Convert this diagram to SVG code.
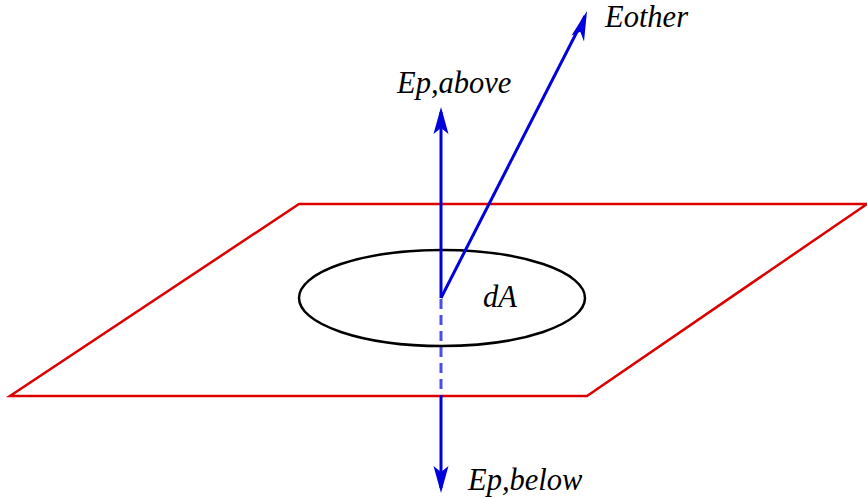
<svg xmlns="http://www.w3.org/2000/svg" width="867" height="498" viewBox="0 0 867 498">
<style>
.lbl{font-family:"Liberation Serif","Times New Roman",serif;font-style:italic;font-size:30.5px;fill:#000}
.vec{stroke:#0000dd;stroke-width:3;fill:none}
.dash{stroke:#0000dd;stroke-width:3;fill:none;stroke-dasharray:10 6;opacity:0.7}
.head{fill:#0000dd}
</style>
<rect width="867" height="498" fill="#fff"/>
<g id="plane">
<polygon points="299,204 867,204 587,396 10,396" fill="none" stroke="#dd0000" stroke-width="2.5"/>
</g>
<g id="dA">
<ellipse cx="442" cy="298" rx="143" ry="48" fill="none" stroke="#000" stroke-width="2.5"/>
<text class="lbl" x="483" y="307">dA</text>
</g>
<g id="connectors">
<path d="M441,298 L441,112" class="vec"/>
<path d="M441,299 L441,396" class="dash"/>
<path d="M441,396 L441,488" class="vec"/>
<path d="M441,298 L585,16" class="vec"/>
<path d="M441,107 L433.5,134 L441,128 L448.5,134 Z" class="head"/>
<path d="M441,493 L433.5,466 L441,472 L448.5,466 Z" class="head"/>
<path d="M587,11 L571.5,35.5 L580.3,31.8 L584,41.4 Z" class="head"/>
</g>
<g id="Ep_above"><text class="lbl" x="397" y="93">Ep,above</text></g>
<g id="Eother"><text class="lbl" x="605" y="27">Eother</text></g>
<g id="Ep_below"><text class="lbl" x="468" y="490">Ep,below</text></g>
</svg>
